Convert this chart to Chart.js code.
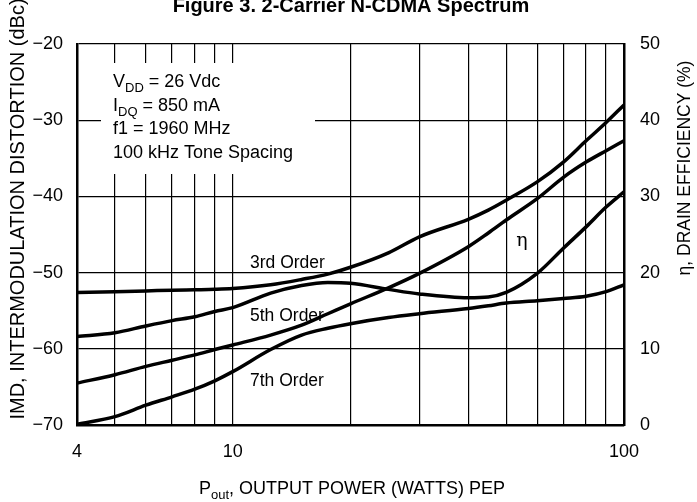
<!DOCTYPE html>
<html>
<head>
<meta charset="utf-8">
<script src="https://cdn.jsdelivr.net/npm/chart.js@4.4.1/dist/chart.umd.min.js"></script>
<style>
  html, body { margin: 0; padding: 0; background: #fff; }
  #wrap { width: 697px; height: 502px; position: relative; }
</style>
</head>
<body>
<div id="wrap"><canvas id="chart" width="697" height="502"></canvas></div>
<script>
// output power, W (log axis)
const powerW = [4, 5, 6, 7, 8, 9, 10, 12.5, 15, 17.5, 20, 25, 30, 40, 45, 50, 60, 70, 80, 90, 100];
// IMD, dBc (left axis)
const imd3 = [-52.6, -52.5, -52.4, -52.3, -52.25, -52.2, -52.1, -51.6, -50.9, -50.2, -49.3, -47.4, -45.3, -43.0, -41.8, -40.5, -38.1, -35.5, -32.7, -30.3, -28.0];
const imd5 = [-58.4, -57.9, -57.0, -56.3, -55.8, -55.1, -54.6, -52.7, -51.7, -51.3, -51.4, -52.2, -52.8, -53.3, -53.2, -52.6, -50.1, -46.8, -44.0, -41.4, -39.4];
const imd7 = [-69.9, -68.9, -67.4, -66.3, -65.3, -64.2, -63.0, -60.1, -58.2, -57.3, -56.7, -55.9, -55.4, -54.7, -54.35, -54.0, -53.7, -53.4, -53.1, -52.5, -51.6];
// drain efficiency, % (right axis)
const effPct = [5.5, 6.6, 7.7, 8.5, 9.2, 9.9, 10.5, 11.8, 13.1, 14.6, 15.9, 18.0, 19.9, 23.4, 25.2, 26.9, 29.7, 32.5, 34.5, 36.0, 37.3];

const xTicks = [4, 5, 6, 7, 8, 9, 10, 20, 30, 40, 50, 60, 70, 80, 90, 100];
const xTickLabels = { 4: '4', 10: '10', 100: '100' };

const FONT = "'Liberation Sans', Arial, sans-serif";

const pts = (ys) => powerW.map((x, i) => ({ x: x, y: ys[i] }));

const lineStyle = {
  borderColor: '#000',
  borderWidth: 3.5,
  pointRadius: 0,
  fill: false,
  cubicInterpolationMode: 'monotone'
};

// draws text with subscript pieces, parts = [[text, isSub], ...]
function drawParts(ctx, parts, x, y, size, align) {
  const subSize = Math.round(size * 0.72);
  let w = 0;
  parts.forEach(([t, sub]) => {
    ctx.font = (sub ? subSize : size) + 'px ' + FONT;
    w += ctx.measureText(t).width;
  });
  let cx = align === 'center' ? x - w / 2 : x;
  ctx.textAlign = 'left';
  parts.forEach(([t, sub]) => {
    ctx.font = (sub ? subSize : size) + 'px ' + FONT;
    ctx.fillText(t, cx, sub ? y + size * 0.28 : y);
    cx += ctx.measureText(t).width;
  });
}

const decor = {
  id: 'decor',
  beforeDatasetsDraw(chart) {
    const ctx = chart.ctx;
    ctx.save();
    ctx.fillStyle = '#fff';
    ctx.fillRect(101, 63, 214, 111);
    ctx.restore();
  },
  afterDraw(chart) {
    const ctx = chart.ctx;
    ctx.save();
    ctx.fillStyle = '#000';
    ctx.textBaseline = 'alphabetic';

    // figure title (partly cut at the top)
    ctx.font = 'bold 20px ' + FONT;
    ctx.textAlign = 'center';
    ctx.fillText('Figure 3. 2-Carrier N-CDMA Spectrum', 351, 12);

    // conditions box
    drawParts(ctx, [['V', false], ['DD', true], [' = 26 Vdc', false]], 113, 87, 18);
    drawParts(ctx, [['I', false], ['DQ', true], [' = 850 mA', false]], 113, 111, 18);
    drawParts(ctx, [['f1 = 1960 MHz', false]], 113, 134, 18);
    drawParts(ctx, [['100 kHz Tone Spacing', false]], 113, 158, 18);

    // curve labels
    drawParts(ctx, [['3rd Order', false]], 250, 268, 17.5);
    drawParts(ctx, [['5th Order', false]], 250, 321, 17.5);
    drawParts(ctx, [['7th Order', false]], 250, 386, 17.5);
    ctx.font = "19px 'DejaVu Serif', serif";
    ctx.textAlign = 'center';
    ctx.fillText('η', 522, 246);

    // x axis title
    drawParts(ctx, [['P', false], ['out', true], [', OUTPUT POWER (WATTS) PEP', false]], 352, 494, 18, 'center');

    // left axis title
    ctx.save();
    ctx.translate(24, 209);
    ctx.rotate(-Math.PI / 2);
    ctx.font = '20px ' + FONT;
    ctx.textAlign = 'center';
    ctx.fillText('IMD, INTERMODULATION DISTORTION (dBc)', 0, 0);
    ctx.restore();

    // right axis title
    ctx.save();
    ctx.translate(690, 168);
    ctx.rotate(-Math.PI / 2);
    ctx.font = '17.5px ' + FONT;
    ctx.textAlign = 'center';
    ctx.fillText('η, DRAIN EFFICIENCY (%)', 0, 0);
    ctx.restore();

    ctx.restore();
  }
};

new Chart(document.getElementById('chart'), {
  type: 'line',
  data: {
    datasets: [
      Object.assign({ label: '3rd Order', data: pts(imd3), yAxisID: 'y' }, lineStyle),
      Object.assign({ label: '5th Order', data: pts(imd5), yAxisID: 'y' }, lineStyle),
      Object.assign({ label: '7th Order', data: pts(imd7), yAxisID: 'y' }, lineStyle),
      Object.assign({ label: 'η', data: pts(effPct), yAxisID: 'y2' }, lineStyle)
    ]
  },
  options: {
    responsive: false,
    animation: false,
    events: [],
    layout: { padding: { top: 44, left: 0, right: 0, bottom: 0 } },
    plugins: { legend: { display: false }, tooltip: { enabled: false } },
    scales: {
      x: {
        type: 'logarithmic',
        min: 4,
        max: 100,
        afterBuildTicks: (scale) => { scale.ticks = xTicks.map(v => ({ value: v })); },
        afterFit: (scale) => { scale.height = 77; },
        grid: { color: '#000', lineWidth: 1.2, drawTicks: false },
        border: { color: '#000', width: 2.5 },
        ticks: {
          color: '#000',
          font: { family: FONT, size: 18 },
          padding: 16,
          autoSkip: false,
          maxRotation: 0,
          callback: (v) => xTickLabels[v] || ''
        }
      },
      y: {
        position: 'left',
        min: -70,
        max: -20,
        afterFit: (scale) => { scale.width = 77; },
        grid: { color: '#000', lineWidth: 1.2, drawTicks: false },
        border: { color: '#000', width: 2.5 },
        ticks: {
          stepSize: 10,
          color: '#000',
          font: { family: FONT, size: 18 },
          padding: 14,
          callback: (v) => (v < 0 ? '\u2212' + Math.abs(v) : String(v))
        }
      },
      y2: {
        position: 'right',
        min: 0,
        max: 50,
        afterFit: (scale) => { scale.width = 73; },
        grid: { display: false, drawTicks: false },
        border: { color: '#000', width: 2.5 },
        ticks: {
          stepSize: 10,
          color: '#000',
          font: { family: FONT, size: 18 },
          padding: 16
        }
      }
    }
  },
  plugins: [decor]
});
</script>
</body>
</html>
